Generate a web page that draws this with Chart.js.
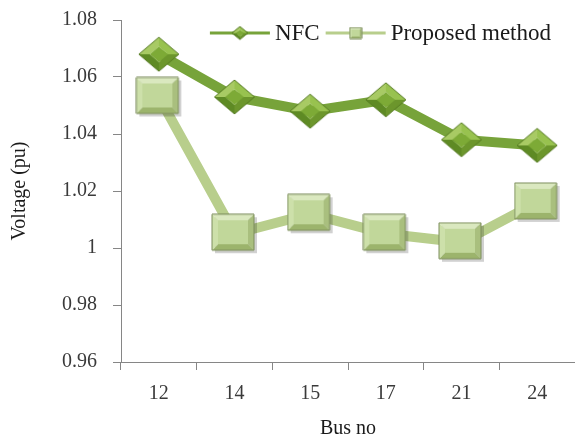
<!DOCTYPE html>
<html>
<head>
<meta charset="utf-8">
<script src="https://cdn.jsdelivr.net/npm/chart.js@4.4.1/dist/chart.umd.min.js"></script>
<style>
  html, body { margin: 0; padding: 0; background: #fff; }
  #wrap { width: 575px; height: 441px; }
</style>
</head>
<body>
<div id="wrap"><canvas id="voltageChart" width="575" height="441"></canvas></div>
<script>
const busNumbers      = ['12', '14', '15', '17', '21', '24'];
const nfcVoltage      = [1.068, 1.053, 1.048, 1.052, 1.038, 1.036];
const proposedVoltage = [1.053, 1.005, 1.012, 1.005, 1.002, 1.016];
const yTicks          = [0.96, 0.98, 1, 1.02, 1.04, 1.06, 1.08];

const serif = "'Liberation Serif', 'Times New Roman', serif";
const axisGray = '#868686';

// draws a bevelled marker: outer outline, 4 facets, flat face
function bevelShape(w, h, outer, inner, facetColors, faceColor, edgeColor, shadow) {
    const c = document.createElement('canvas');
    c.width = w;
    c.height = h;
    const ctx = c.getContext('2d');

    function poly(pts) {
        ctx.beginPath();
        ctx.moveTo(pts[0][0], pts[0][1]);
        for (let i = 1; i < pts.length; i++) ctx.lineTo(pts[i][0], pts[i][1]);
        ctx.closePath();
    }

    if (shadow) {
        poly(outer.map(p => [p[0] + shadow, p[1] + shadow]));
        ctx.fillStyle = 'rgba(0,0,0,0.18)';
        ctx.fill();
    }

    for (let i = 0; i < outer.length; i++) {
        const j = (i + 1) % outer.length;
        poly([outer[i], outer[j], inner[j], inner[i]]);
        ctx.fillStyle = facetColors[i];
        ctx.fill();
    }
    poly(inner);
    ctx.fillStyle = faceColor;
    ctx.fill();

    poly(outer);
    ctx.strokeStyle = edgeColor;
    ctx.lineWidth = 1;
    ctx.stroke();
    return c;
}

function makeDiamond(w, h, inset) {
    const cx = w / 2 + 1, cy = h / 2 + 1;
    const outer = [[cx, 1], [w + 1, cy], [cx, h + 1], [1, cy]];
    const inner = [[cx, 1 + inset * 0.85], [w + 1 - inset, cy], [cx, h + 1 - inset * 0.85], [1 + inset, cy]];
    return bevelShape(w + 2, h + 2, outer, inner,
        ['#98C24F', '#6C962C', '#5E8A24', '#A8CA64'], '#7DAA36', '#557A22', 0);
}

function makeSquare(w, h, inset, shadow) {
    const outer = [[1, 1], [w + 1, 1], [w + 1, h + 1], [1, h + 1]];
    const inner = [[1 + inset, 1 + inset], [w + 1 - inset, 1 + inset], [w + 1 - inset, h + 1 - inset], [1 + inset, h + 1 - inset]];
    return bevelShape(w + 2 + shadow, h + 2 + shadow, outer, inner,
        ['#DAE8BF', '#A9BF7E', '#9CB46C', '#CDE0AA'], '#C1D79A', '#7D8D5C', shadow);
}

const diamondImg      = makeDiamond(40, 34, 11);
const squareImg       = makeSquare(42, 36, 6, 3);
const diamondSmallImg = makeDiamond(16, 13, 4);
const squareSmallImg  = makeSquare(12, 11, 2, 0);

const legendPlugin = {
    id: 'insideLegend',
    afterDraw(chart) {
        const ctx = chart.ctx;
        const area = chart.chartArea;
        const sets = chart.data.datasets;
        const icons = [diamondSmallImg, squareSmallImg];
        const lineLen = 60, gap = 5, itemGap = 6;
        ctx.save();
        ctx.font = '23px ' + serif;
        let total = 0;
        sets.forEach(ds => total += lineLen + gap + ctx.measureText(ds.label).width);
        total += itemGap * (sets.length - 1);
        let x = area.right - 24 - total;
        const y = area.top + 13;
        sets.forEach((ds, i) => {
            ctx.strokeStyle = ds.borderColor;
            ctx.lineWidth = 3;
            ctx.beginPath();
            ctx.moveTo(x, y);
            ctx.lineTo(x + lineLen, y);
            ctx.stroke();
            const icon = icons[i];
            ctx.drawImage(icon, x + lineLen / 2 - icon.width / 2, y - icon.height / 2);
            x += lineLen + gap;
            ctx.fillStyle = '#1a1a1a';
            ctx.textBaseline = 'middle';
            ctx.textAlign = 'left';
            ctx.fillText(ds.label, x, y + 1);
            x += ctx.measureText(ds.label).width + itemGap;
        });
        ctx.restore();
    }
};

const ctx = document.getElementById('voltageChart').getContext('2d');
new Chart(ctx, {
    type: 'line',
    data: {
        labels: busNumbers,
        datasets: [{
            label: 'NFC',
            data: nfcVoltage,
            borderColor: '#77A33A',
            borderWidth: 10,
            pointStyle: diamondImg,
            pointRadius: 20,
            tension: 0,
        }, {
            label: 'Proposed method',
            data: proposedVoltage,
            borderColor: '#B8CE8C',
            borderWidth: 10,
            pointStyle: squareImg,
            pointRadius: 20,
            tension: 0,
        }]
    },
    options: {
        responsive: false,
        animation: false,
        events: [],
        layout: { autoPadding: false, padding: { top: 20, right: 0, bottom: 0, left: 0 } },
        plugins: {
            legend: { display: false },
            tooltip: { enabled: false }
        },
        scales: {
            x: {
                offset: true,
                grid: { offset: true, drawOnChartArea: false, tickLength: 8, color: axisGray },
                border: { color: axisGray },
                ticks: { font: { family: serif, size: 20 }, color: '#3a3a3a', padding: 12 },
                title: { display: true, text: 'Bus no', font: { family: serif, size: 20 }, color: '#1a1a1a', padding: { top: 0, bottom: 0 } },
                afterFit: scale => {
                    scale.height = 79;
                    scale.paddingLeft = 0;
                    scale.paddingRight = 0;
                }
            },
            y: {
                min: 0.96,
                max: 1.08,
                afterBuildTicks: scale => { scale.ticks = yTicks.map(v => ({ value: v })); },
                grid: { drawOnChartArea: false, tickLength: 8, color: axisGray },
                border: { color: axisGray },
                ticks: {
                    font: { family: serif, size: 20 },
                    color: '#3a3a3a',
                    padding: 16,
                    callback: v => String(+Number(v).toFixed(2))
                },
                title: { display: true, text: 'Voltage (pu)', font: { family: serif, size: 20 }, color: '#1a1a1a', padding: { top: 8, bottom: 0 } },
                afterFit: scale => {
                    scale.width = 121;
                    scale.paddingTop = 0;
                    scale.paddingBottom = 0;
                }
            }
        }
    },
    plugins: [legendPlugin]
});
</script>
</body>
</html>
